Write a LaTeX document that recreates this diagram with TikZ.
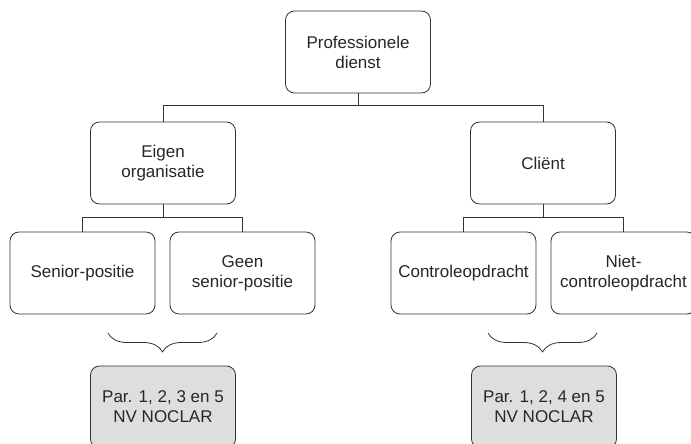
\documentclass[tikz,border=0pt]{standalone}
\usepackage{fontspec}
\setmainfont{Liberation Sans}
\usetikzlibrary{decorations.pathreplacing}

\begin{document}
\begin{tikzpicture}[x=1pt,y=-1pt,line join=round,
	vak/.style={draw=black!80,line width=0.8pt,rounded corners=9pt,minimum width=145pt,minimum height=82pt,inner sep=1pt,align=center,text=black!85,font=\fontsize{17}{20}\selectfont},
	grijs/.style={vak,fill=black!13},
	lijn/.style={draw=black!80,line width=0.8pt},
	accolade/.style={draw=black!80,line width=0.8pt,decorate,decoration={brace,mirror,amplitude=19pt}}]
	\clip (0,0) rectangle (691,444);
	\pgfmathsetmacro{\s}{12}
	\node[vak] (dienst) at (358,52) {Professionele\\dienst};
	\node[vak] (eigen) at (163,163) {Eigen\\organisatie};
	\node[vak] (client) at (543,163) {Cliënt};
	\node[vak] (senior) at (82.5,273) {Senior-positie};
	\node[vak] (geen) at (242.5,273) {Geen\\senior-positie};
	\node[vak] (controle) at (463.5,273) {Controleopdracht};
	\node[vak] (niet) at (623.5,273) {Niet-\\controleopdracht};
	\node[grijs] (parlinks) at (163,407) {Par. 1, 2, 3 en 5\\NV NOCLAR};
	\node[grijs] (parrechts) at (544,407) {Par. 1, 2, 4 en 5\\NV NOCLAR};
	% verbindingen
	\draw[lijn] (dienst.south) -- ++(0,\s) -| (eigen.north) (dienst.south) -- ++(0,\s) -| (client.north);
	\draw[lijn] (eigen.south) -- ++(0,\s+1) -| (senior.north) (eigen.south) -- ++(0,\s+1) -| (geen.north);
	\draw[lijn] (client.south) -- ++(0,\s+1) -| (controle.north) (client.south) -- ++(0,\s+1) -| (niet.north);
	% accolades
	\coordinate (al) at (108,333); \coordinate (ar) at (217,333);
	\coordinate (bl) at (488,333); \coordinate (br) at (597,333);
	\draw[accolade] (al) -- (ar);
	\draw[accolade] (bl) -- (br);
\end{tikzpicture}
\end{document}
